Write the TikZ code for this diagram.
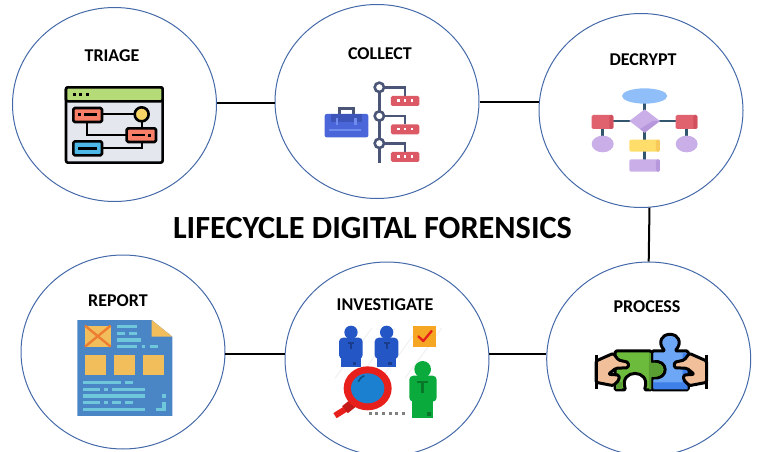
\documentclass[tikz,border=0pt]{standalone}
\usepackage{fontspec}
\setmainfont{Carlito}
\usetikzlibrary{shapes.geometric}

\definecolor{ringblue}{HTML}{4469A8}
\definecolor{slateline}{HTML}{4B5578}
\definecolor{deepslate}{HTML}{33566F}
\definecolor{windowgrey}{HTML}{E4E7EE}
\definecolor{windowgreen}{HTML}{B5DB78}
\definecolor{boxred}{HTML}{FA7F68}
\definecolor{boxblue}{HTML}{4DB8E8}
\definecolor{dotyellow}{HTML}{F8D565}
\definecolor{caseblue}{HTML}{4A66D8}
\definecolor{casedark}{HTML}{3D55B8}
\definecolor{caselight}{HTML}{6F8BEE}
\definecolor{tagred}{HTML}{DC5A66}
\definecolor{flowblue}{HTML}{8FBEF8}
\definecolor{flowpurple}{HTML}{C9AEE8}
\definecolor{flowshade}{HTML}{B898DC}
\definecolor{flowred}{HTML}{E0626F}
\definecolor{flowredshade}{HTML}{D24F5E}
\definecolor{flowyellow}{HTML}{FFDD6B}
\definecolor{flowyellowshade}{HTML}{F6C95A}
\definecolor{pageblue}{HTML}{4A86C5}
\definecolor{pageyellow}{HTML}{F2BE5C}
\definecolor{pageorange}{HTML}{ED7D31}
\definecolor{pagecyan}{HTML}{6FC7DC}
\definecolor{manblue}{HTML}{2457C5}
\definecolor{mangreen}{HTML}{0BAA3C}
\definecolor{lensred}{HTML}{E8201C}
\definecolor{lensblue}{HTML}{1B80D0}
\definecolor{tickorange}{HTML}{F5A623}
\definecolor{piecegreen}{HTML}{6DBB3C}
\definecolor{knobgreen}{HTML}{5A9E33}
\definecolor{pieceblue}{HTML}{6CA6F5}
\definecolor{piecedeep}{HTML}{3F7FE8}
\definecolor{skintone}{HTML}{F1C09A}

\tikzset{
  stage/.style={draw=ringblue, ellipse, line width=1pt, inner sep=0pt, minimum width=\ringw, minimum height=\ringh},
  stagelabel/.style={font=\fontsize{18}{20}\selectfont\bfseries, inner sep=0pt},
  link/.style={draw=black, line width=2pt},
  icon/.style={x=0.3333pt, y=-0.3333pt},
  inked/.style={draw=black, line width=2.6pt, line join=round, rounded corners=1.5pt},
}

\begin{document}
\begin{tikzpicture}[x=1pt, y=-1pt]
    %--------------------%
    % Parameters
    %--------------------%
    \def\ringw{204}
    \def\ringh{194}

    \clip (0,0) rectangle (758,452);

    %--------------------%
    % Stages
    %--------------------%
    \node[stage] (triage) at (114.5,104.5) {};
    \node[stage] (collect) at (377,101.5) {};
    \node[stage] (decrypt) at (641,110.5) {};
    \node[stage] (report) at (123,352) {};
    \node[stage] (investigate) at (387,359) {};
    \node[stage] (process) at (648.7,359) {};

    \node[stagelabel] (triagelabel) at (112,56) {TRIAGE};
    \node[stagelabel] (collectlabel) at (380,54) {COLLECT};
    \node[stagelabel] (decryptlabel) at (643,60) {DECRYPT};
    \node[stagelabel] (reportlabel) at (118,301) {REPORT};
    \node[stagelabel] (investigatelabel) at (385,305) {INVESTIGATE};
    \node[stagelabel] (processlabel) at (647,307) {PROCESS};

    \node[font=\fontsize{32.3}{35}\selectfont\bfseries, inner sep=0pt] (title) at (372.5,228) {LIFECYCLE DIGITAL FORENSICS};

    %--------------------%
    % Connections
    %--------------------%
    \draw[link] (triage.1) -- (triage.1 -| collect.west);
    \draw[link] (collect.east) -- (collect.east -| decrypt.west);
    \draw[link] (decrypt.-85) -- (process.90);
    \draw[link] (report.-1) -- (report.-1 -| investigate.west);
    \draw[link] (investigate.3) -- (investigate.3 -| process.west);

    %--------------------%
    % Triage icon
    %--------------------%
    \begin{scope}[shift={(40,70)}, icon]
        \draw[line width=2.6pt, fill=windowgrey, rounded corners=2pt] (78,52) rectangle (368,278);
        \draw[line width=2.6pt, fill=windowgreen, rounded corners=2pt] (78,52) rectangle (368,94);
        \foreach \x in {100,118,137}
            \fill (\x,69) rectangle (\x+9,79);
        \draw[line width=2pt] (186,133) -- (285,133);
        \draw[line width=2pt] (305,155) -- (305,175);
        \draw[line width=2pt] (142,156) -- (142,195) -- (260,195);
        \draw[line width=2pt] (186,235) -- (305,235) -- (305,216);
        \draw[inked, fill=boxred] (100,114) rectangle (186,156);
        \draw[inked, fill=boxred] (260,175) rectangle (348,216);
        \draw[inked, fill=boxblue] (100,214) rectangle (186,256);
        \draw[inked, fill=dotyellow] (305,133) circle (21);
        \fill (114,129) rectangle (123,139);
        \fill (133,130) rectangle (170,138);
        \fill (277,191) rectangle (314,199);
        \fill (325,191) rectangle (334,201);
        \fill (114,231) rectangle (172,239);
    \end{scope}

    %--------------------%
    % Collect icon
    %--------------------%
    \begin{scope}[shift={(310,70)}, icon]
        \draw[slateline, line width=2.4pt] (88,132) -- (88,115) -- (130,115) -- (130,132);
        \fill[caseblue, rounded corners=2pt] (44,132) rectangle (175,202);
        \fill[casedark] (62,132) rectangle (155,155);
        \fill[caselight] (58,176) rectangle (152,183);
        \fill[caselight] (78,145) rectangle (85,165);
        \fill[caselight] (133,145) rectangle (140,165);
        \draw[slateline, line width=2.4pt] (208,52) -- (208,280);
        \foreach \y/\b in {52/78,138/163,220/246} {
            \draw[slateline, line width=2.4pt] (208,\y) -- (285,\y) -- (285,\b);
            \draw[slateline, line width=2.6pt, fill=white] (208,\y) circle (14);
            \fill[tagred, rounded corners=1.5pt] (243,\b) rectangle (328,\b+30);
            \foreach \x in {262,282,302}
                \fill[white] (\x,\b+10) rectangle (\x+7,\b+17);
        }
    \end{scope}

    %--------------------%
    % Decrypt icon
    %--------------------%
    \begin{scope}[shift={(580,75)}, icon]
        \draw[deepslate, line width=2.5pt] (194,63) -- (194,270);
        \draw[deepslate, line width=2.2pt] (68,138) -- (320,138);
        \draw[deepslate, line width=2.5pt] (68,138) -- (68,207);
        \draw[deepslate, line width=2.5pt] (320,138) -- (320,207);
        \fill[flowblue] (194,63) ellipse (68 and 23);
        \fill[flowpurple] (194,103) -- (240,138) -- (194,173) -- (148,138) -- cycle;
        \fill[flowshade] (240,138) -- (194,173) -- (180,162) -- (218,138) -- cycle;
        \foreach \x in {35,287} {
            \fill[flowred, rounded corners=1.5pt] (\x,120) rectangle (\x+65,162);
            \fill[flowredshade, rounded corners=1.5pt] (\x+53,120) rectangle (\x+65,162);
        }
        \fill[flowpurple] (68,207) ellipse (33 and 25);
        \fill[flowpurple] (320,207) ellipse (33 and 25);
        \fill[flowyellow, rounded corners=1.5pt] (148,194) rectangle (240,230);
        \fill[flowyellowshade, rounded corners=1.5pt] (228,194) rectangle (240,230);
        \fill[flowpurple, rounded corners=1.5pt] (148,253) rectangle (240,290);
        \fill[flowshade, rounded corners=1.5pt] (228,253) rectangle (240,290);
    \end{scope}

    %--------------------%
    % Report icon
    %--------------------%
    \begin{scope}[shift={(65,310)}, icon]
        \fill[pageblue] (37,30) -- (260,30) -- (322,80) -- (322,318) -- (37,318) -- cycle;
        \fill[pageyellow] (260,30) -- (322,80) -- (260,80) -- cycle;
        \fill[pageyellow] (60,47) rectangle (137,110);
        \draw[pageorange, line width=2.4pt] (60,47) -- (137,110) (137,47) -- (60,110);
        \foreach \x in {60,148,235}
            \fill[pageyellow] (\x,135) rectangle (\x+62,195);
        \foreach \a/\b/\y in {155/215/50,155/180/70,192/215/70,155/228/90,155/215/110,230/240/110,255/278/110,
                              55/167/218,180/204/218,55/105/238,118/130/238,142/240/238,55/240/258,292/302/258,
                              55/105/278,118/130/278,142/167/278,180/204/278,55/240/298,272/302/298}
            \fill[pagecyan] (\a,\y-5) rectangle (\b,\y+5);
        \fill[pagecyan] (292,275) rectangle (302,298);
    \end{scope}

    %--------------------%
    % Investigate icon
    %--------------------%
    \begin{scope}[shift={(325,315)}, icon]
        \foreach \x in {30,100,170,240}
            \draw[black!6, line width=1pt] (\x,190) -- (\x+110,40);
        \foreach \x in {78,185} {
            \fill[manblue] (\x,52) circle (20);
            \fill[manblue, rounded corners=4pt] (\x-36,68) rectangle (\x+35,132);
            \fill[manblue] (\x-30,110) rectangle (\x+29,157);
            \fill[manblue!70!black] (\x-9,82) rectangle (\x+9,88);
            \fill[manblue!70!black] (\x-3,82) rectangle (\x+3,102);
            \fill[manblue!70!black] (\x+5,140) rectangle (\x+16,150);
        }
        \fill[mangreen] (293,163) circle (25);
        \fill[mangreen, rounded corners=4pt] (253,182) rectangle (335,260);
        \fill[mangreen] (261,240) rectangle (325,310);
        \fill[mangreen!70!black] (277,197) rectangle (309,205);
        \fill[mangreen!70!black] (289,197) rectangle (297,234);
        \fill[mangreen!70!black] (305,290) rectangle (317,302);
        \fill[tickorange] (263,34) rectangle (333,97);
        \draw[lensred, line width=2.3pt, line cap=round, line join=round] (280,64) -- (295,78) -- (320,48);
        \draw[lensred, line width=6pt] (30,302) -- (62,282);
        \draw[lensred!85!black, line width=9pt] (60,284) -- (85,264);
        \fill[lensred] (128,220) ellipse (72 and 66);
        \fill[lensblue] (128,220) ellipse (50 and 45);
        \draw[lensblue!60!black, line width=1.5pt] (100,200) arc (200:250:30);
        \foreach \x in {135,155,175,195,215,235}
            \fill[gray] (\x-4,291) rectangle (\x+5,300);
    \end{scope}

    %--------------------%
    % Process icon
    %--------------------%
    \begin{scope}[shift={(585,325)}, icon]
        % blue piece
        \draw[inked, line width=3pt, fill=pieceblue] (200,78) -- (240,78) .. controls (215,50) and (235,28) .. (255,28) .. controls (275,28) and (295,50) .. (270,78) -- (310,78) -- (310,195) -- (200,195) -- cycle;
        \fill[piecedeep] (205,172) -- (293,172) -- (293,85) -- (308,85) -- (308,193) -- (205,193) -- cycle;
        % green piece
        \draw[inked, line width=3pt, fill=piecegreen] (90,78) -- (200,78) -- (200,112) .. controls (250,100) and (255,165) .. (200,158) -- (200,195) -- (178,195) .. controls (200,130) and (100,130) .. (122,195) -- (90,195) -- cycle;
        \fill[knobgreen] (192,84) rectangle (199,114);
        \fill[knobgreen] (192,114) -- (199,114) .. controls (243,105) and (248,162) .. (199,155) -- (199,193) -- (192,193) -- cycle;
        \fill[knobgreen] (93,172) rectangle (112,193);
        % hands
        \draw[inked, line width=3pt, fill=skintone] (33,108) -- (85,85) -- (100,105) -- (130,112) -- (130,128) -- (92,130) -- (70,148) -- (102,150) -- (102,165) -- (85,182) -- (33,172) -- cycle;
        \draw[inked, line width=3pt, fill=skintone] (365,108) -- (313,85) -- (298,105) -- (268,112) -- (268,128) -- (306,130) -- (328,148) -- (296,150) -- (296,165) -- (313,182) -- (365,172) -- cycle;
        \draw[line width=3pt] (33,90) -- (33,192);
        \draw[line width=3pt] (365,90) -- (365,192);
    \end{scope}
\end{tikzpicture}
\end{document}
